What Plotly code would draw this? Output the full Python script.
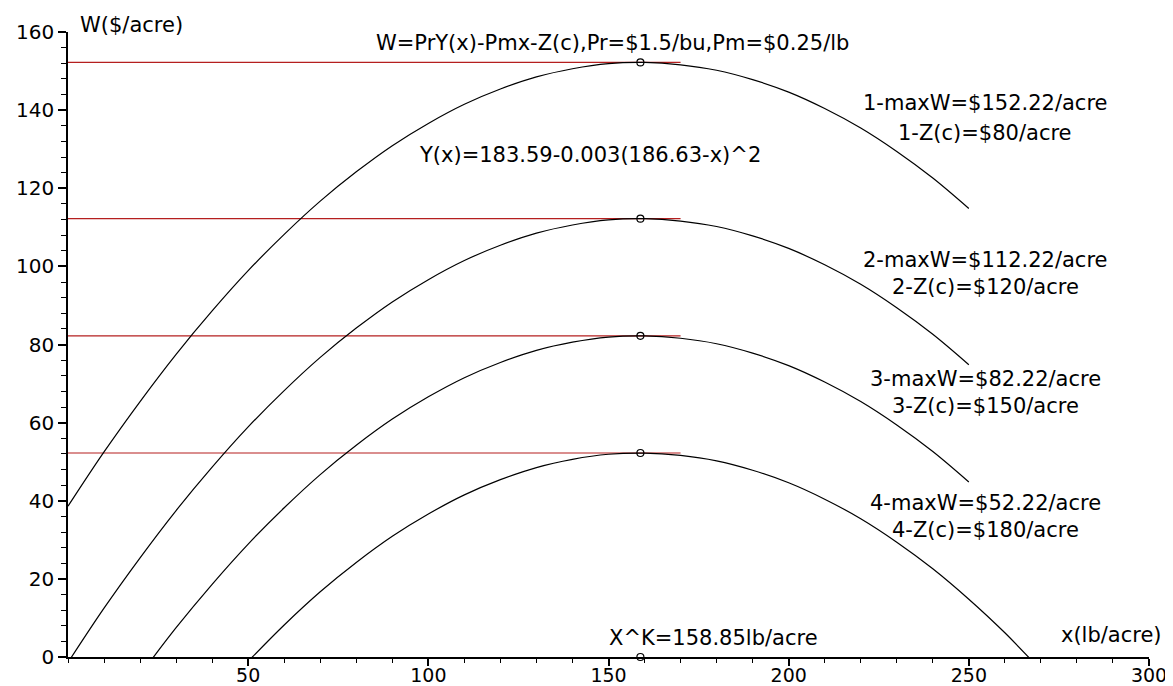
import plotly.graph_objects as go

# ---- data ----
x_c1 = [0, 10, 20, 30, 40, 50, 60, 70, 80, 90, 100, 110, 120, 130, 140, 150, 160, 170, 180, 190, 200, 210, 220, 230, 240, 250]
w_c1 = [38.6, 52.5, 65.4, 77.5, 88.6, 98.9, 108.2, 116.7, 124.2, 130.9, 136.6, 141.5, 145.4, 148.5, 150.6, 151.9, 152.2, 151.6, 150.2, 147.8, 144.6, 140.4, 135.4, 129.4, 122.6, 114.8]

x_c2 = [0, 10, 20, 30, 40, 50, 60, 70, 80, 90, 100, 110, 120, 130, 140, 150, 160, 170, 180, 190, 200, 210, 220, 230, 240, 250]
w_c2 = [-1.4, 12.5, 25.4, 37.5, 48.6, 58.9, 68.2, 76.7, 84.2, 90.9, 96.6, 101.5, 105.4, 108.5, 110.6, 111.9, 112.2, 111.6, 110.2, 107.8, 104.6, 100.4, 95.4, 89.4, 82.6, 74.8]

x_c3 = [20, 30, 40, 50, 60, 70, 80, 90, 100, 110, 120, 130, 140, 150, 160, 170, 180, 190, 200, 210, 220, 230, 240, 250]
w_c3 = [-4.6, 7.5, 18.6, 28.9, 38.2, 46.7, 54.2, 60.9, 66.6, 71.5, 75.4, 78.5, 80.6, 81.9, 82.2, 81.6, 80.2, 77.8, 74.6, 70.4, 65.4, 59.4, 52.6, 44.8]

x_c4 = [50, 60, 70, 80, 90, 100, 110, 120, 130, 140, 150, 160, 170, 180, 190, 200, 210, 220, 230, 240, 250, 260, 270]
w_c4 = [-1.1, 8.2, 16.7, 24.2, 30.9, 36.6, 41.5, 45.4, 48.5, 50.6, 51.9, 52.2, 51.6, 50.2, 47.8, 44.6, 40.4, 35.4, 29.4, 22.6, 14.8, 6.2, -3.4]

max_w = [152.22, 112.22, 82.22, 52.22]
x_opt = 158.85
ref_x_end = 170

x_ticks = [50, 100, 150, 200, 250, 300]
y_ticks = [0, 20, 40, 60, 80, 100, 120, 140, 160]

labels_maxw = ["1-maxW=$152.22/acre", "2-maxW=$112.22/acre", "3-maxW=$82.22/acre", "4-maxW=$52.22/acre"]
labels_zc = ["1-Z(c)=$80/acre", "2-Z(c)=$120/acre", "3-Z(c)=$150/acre", "4-Z(c)=$180/acre"]
label_maxw_y = [141.8, 101.6, 71.2, 39.4]
label_zc_y = [134.2, 94.7, 64.3, 32.5]

FONT = "DejaVu Sans"
FS = 21
RED = "#b51f1f"

fig = go.Figure()

# red reference lines
for w in max_w:
    fig.add_trace(go.Scatter(x=[0, ref_x_end], y=[w, w], mode="lines",
                             line=dict(color=RED, width=1.2), hoverinfo="skip"))

# curves
for xs, ws in [(x_c1, w_c1), (x_c2, w_c2), (x_c3, w_c3), (x_c4, w_c4)]:
    fig.add_trace(go.Scatter(x=xs, y=ws, mode="lines",
                             line=dict(color="black", width=1.2, shape="spline", smoothing=1.0)))

# optimum markers
fig.add_trace(go.Scatter(x=[x_opt] * 5, y=max_w + [0], mode="markers",
                         marker=dict(symbol="circle-open", size=7, color="black", line=dict(width=1.2)),
                         cliponaxis=False))

annotations = []
def ann(text, x, y, anchor="center", xref="x", yref="y"):
    annotations.append(dict(text=text, x=x, y=y, xref=xref, yref=yref, showarrow=False,
                            xanchor=anchor, yanchor="middle",
                            font=dict(family=FONT, size=FS, color="black")))

ann("W($/acre)", 0.009, 1.011, "left", "paper", "paper")
ann("W=PrY(x)-Pmx-Z(c),Pr=$1.5/bu,Pm=$0.25/lb", 151, 157.2)
ann("Y(x)=183.59-0.003(186.63-x)^2", 144.8, 128.5)
for t, y in zip(labels_maxw, label_maxw_y):
    ann(t, 254.5, y)
for t, y in zip(labels_zc, label_zc_y):
    ann(t, 254.5, y)
ann("X^K=158.85lb/acre", 179, 4.9)
ann("x(lb/acre)", 289.7, 5.6)

fig.update_layout(
    template="none",
    width=1165, height=678,
    margin=dict(l=60, r=24, t=24, b=29, autoexpand=False),
    paper_bgcolor="white", plot_bgcolor="white",
    showlegend=False,
    annotations=annotations,
    xaxis=dict(range=[0, 300], tickvals=x_ticks, showgrid=False, zeroline=False, automargin=False,
               showline=True, linecolor="black", linewidth=1.5,
               ticks="outside", ticklen=7, tickwidth=1.5, tickcolor="black",
               ticklabelstandoff=-7,
               minor=dict(dtick=10, tick0=0, ticks="outside", ticklen=4, tickwidth=1.2, tickcolor="black"),
               tickfont=dict(family=FONT, size=19, color="black")),
    yaxis=dict(range=[0, 160], tickvals=y_ticks, showgrid=False, zeroline=False, automargin=False,
               showline=True, linecolor="black", linewidth=1.5,
               ticks="outside", ticklen=8, tickwidth=1.5, tickcolor="black",
               minor=dict(dtick=4, tick0=0, ticks="outside", ticklen=5, tickwidth=1.2, tickcolor="black"),
               tickfont=dict(family=FONT, size=20, color="black")),
)

fig.write_html("out.html")
